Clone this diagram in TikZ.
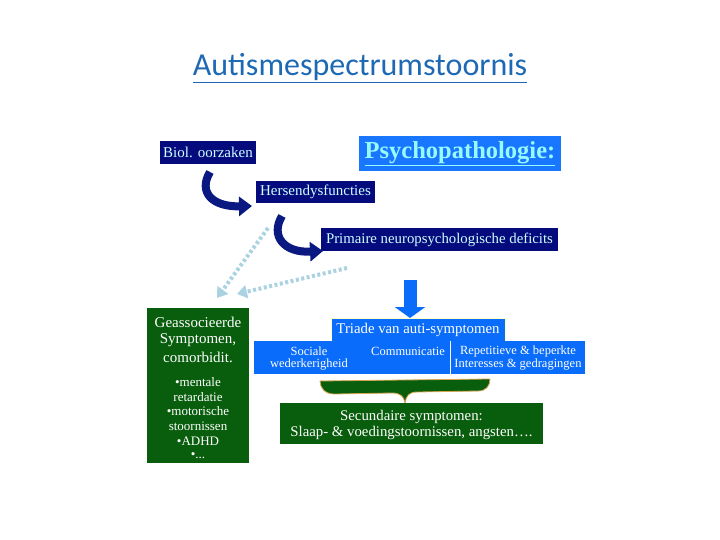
\documentclass[tikz,border=0pt]{standalone}
\usepackage{fontspec}
\setmainfont{Liberation Serif}
\newfontfamily\titlefont{Carlito}
\usetikzlibrary{arrows.meta}
\definecolor{navybox}{RGB}{5,10,125}
\definecolor{navyarrow}{RGB}{10,25,130}
\definecolor{lightcyan}{RGB}{205,255,255}
\definecolor{psyblue}{RGB}{25,118,255}
\definecolor{psytext}{RGB}{150,250,255}
\definecolor{triblue}{RGB}{10,108,250}
\definecolor{dkgreen}{RGB}{8,94,12}
\definecolor{gold}{RGB}{215,165,80}
\definecolor{dotblue}{RGB}{170,210,225}
\definecolor{titleblue}{RGB}{30,105,180}
\definecolor{paleyellow}{RGB}{255,255,200}
\tikzset{
  navy/.style={fill=navybox, text=lightcyan, inner sep=0pt, font=\fontsize{15}{17}\selectfont},
  bluebox/.style={fill=triblue, text=white, inner sep=0pt},
  greenbox/.style={fill=dkgreen, text=white, inner sep=0pt},
  txt/.style={inner sep=0pt, text=white},
  curvearrow/.style={draw=navyarrow, line width=8pt, -{Triangle[width=19pt,length=13pt]}},
  dotarrow/.style={draw=dotblue, line width=4pt, dash pattern=on 3pt off 2.5pt, -{Triangle[width=13pt,length=10pt]}},
}
\begin{document}
\begin{tikzpicture}[x=1pt,y=-1pt]
\useasboundingbox (0,0) rectangle (720,540);
% title
\node[inner sep=0pt, text=titleblue, font=\titlefont\fontsize{32}{36}\selectfont] (title) at (360,68) {\underline{Autismespectrumstoornis}};
% navy boxes
\node[navy, minimum width=96pt, minimum height=23pt] (biol) at (208,152.5) {Biol. oorzaken};
\node[fill=psyblue, text=psytext, inner sep=0pt, minimum width=202pt, minimum height=35pt, font=\bfseries\fontsize{24.5}{26}\selectfont] (psy) at (460,153.5) {\underline{Psychopathologie:}};
\node[navy, minimum width=119pt, minimum height=22pt] (hers) at (315.5,192) {Hersendysfuncties};
\node[navy, minimum width=237pt, minimum height=23pt, font=\fontsize{14.8}{17}\selectfont] (prim) at (439.5,239.5) {Primaire neuropsychologische deficits};
% curved arrows
\coordinate (c1s) at (210,172);
\coordinate (c1e) at (252,206);
\draw[curvearrow] (c1s) .. controls (198,192) and (212,207) .. (c1e);
\coordinate (c2s) at (282,216);
\coordinate (c2e) at (323,251);
\draw[curvearrow] (c2s) .. controls (270,236) and (284,253) .. (c2e);
% dotted arrows
\coordinate (d1s) at (268,228);
\coordinate (d1e) at (217,298);
\draw[dotarrow] (d1s) -- (d1e);
\coordinate (d2s) at (347,268);
\coordinate (d2e) at (237,294);
\draw[dotarrow] (d2s) -- (d2e);
% triade and bar
\node[bluebox, draw=paleyellow, line width=0.6pt, minimum width=174pt, minimum height=23pt, font=\fontsize{14.8}{17}\selectfont] (triade) at (418,329.5) {Triade van auti-symptomen};
\node[bluebox, minimum width=197pt, minimum height=33pt] (barL) at (352.5,357.5) {};
\node[bluebox, minimum width=134pt, minimum height=33pt] (barR) at (518,357.5) {};
\draw[white, line width=0.8pt] (barR.north west) -- (barR.south west);
% down arrow
\coordinate (da) at (410,280);
\coordinate (dae) at (410,318);
\draw[draw=triblue, line width=13pt, -{Triangle[width=30pt,length=11pt]}] (da) -- (dae);
\tikzset{bartxt/.style={txt, font=\fontsize{12.5}{14}\selectfont}}
\node[bartxt] (soc1) at (309,351) {Sociale};
\node[bartxt] (soc2) at (309,365) {wederkerigheid};
\node[bartxt] (comm) at (408,351) {Communicatie};
\node[bartxt] (rep1) at (518,351) {Repetitieve \& beperkte};
\node[bartxt] (rep2) at (518,365) {Interesses \& gedragingen};
% brace
\path[fill=dkgreen, draw=gold, line width=0.8pt] (320,381) -- (490,379)
  .. controls (490,386) and (486,391) .. (478,391) -- (417,392)
  .. controls (409,392) and (406,396) .. (405,403)
  .. controls (404,396) and (400,393) .. (392,393) -- (334,394)
  .. controls (325,394) and (320,388) .. cycle;
% secundaire
\node[greenbox, minimum width=263pt, minimum height=41pt] (sec) at (411.5,423.5) {};
\tikzset{sectxt/.style={txt, font=\fontsize{14.8}{17}\selectfont}}
\node[sectxt] (sec1) at (411.5,417) {Secundaire symptomen:};
\node[sectxt] (sec2) at (411.5,433) {Slaap- \& voedingstoornissen, angsten….};
% associated
\node[greenbox, minimum width=102pt, minimum height=155pt] (assoc) at (198,385.5) {};
\tikzset{ahead/.style={txt, font=\fontsize{15}{17}\selectfont}, alist/.style={txt, font=\fontsize{13}{15}\selectfont}}
\node[ahead] (a1) at (198,322) {Geassocieerde};
\node[ahead] (a2) at (198,340) {Symptomen,};
\node[ahead] (a3) at (198,357) {comorbidit.};
\node[alist] (l1) at (198,382) {•mentale};
\node[alist] (l2) at (198,397) {retardatie};
\node[alist] (l3) at (198,411) {•motorische};
\node[alist] (l4) at (198,426) {stoornissen};
\node[alist] (l5) at (198,441) {•ADHD};
\node[alist] (l6) at (198,456) {•...};
\end{tikzpicture}
\end{document}
